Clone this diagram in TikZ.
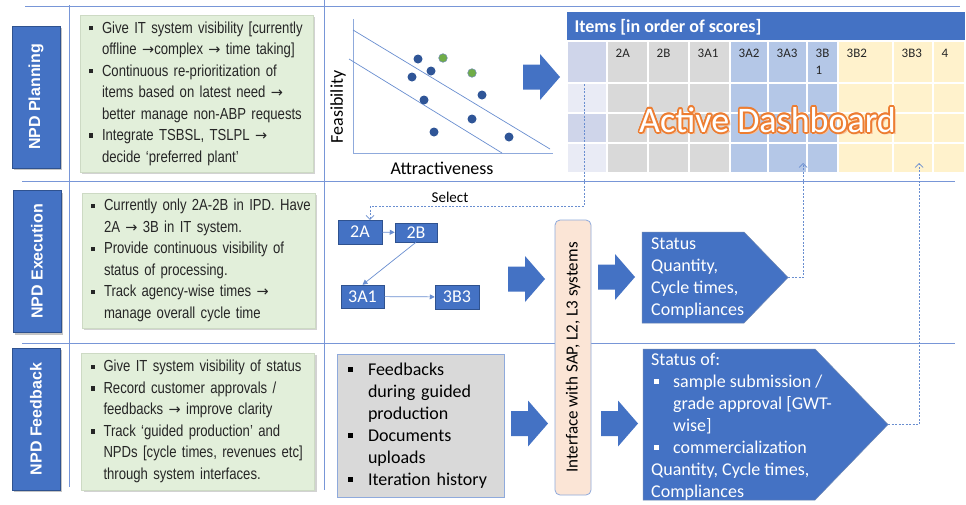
\documentclass[tikz,border=0pt]{standalone}
\usepackage{fontspec}
\usepackage{graphicx}
\setmainfont{Carlito}
\newfontfamily\arialfont{Liberation Sans}
\newfontfamily\narrowfont[FakeStretch=0.82]{Liberation Sans}
\newfontfamily\symfont{DejaVu Sans}
\usetikzlibrary{calc,arrows.meta,shadows}
\definecolor{npdBlue}{RGB}{68,114,196}
\definecolor{npdBlueDark}{RGB}{47,82,143}
\definecolor{sepBlue}{RGB}{120,150,215}
\definecolor{dotBlue}{RGB}{47,85,151}
\definecolor{dotGreen}{RGB}{112,173,71}
\definecolor{noteGreen}{RGB}{226,239,218}
\definecolor{noteEdge}{RGB}{205,218,196}
\definecolor{cellGray}{RGB}{217,217,217}
\definecolor{cellBlue}{RGB}{180,199,231}
\definecolor{cellYellow}{RGB}{255,242,204}
\definecolor{cellLav}{RGB}{207,213,234}
\definecolor{cellLavLight}{RGB}{233,235,245}
\definecolor{dashOrange}{RGB}{237,125,49}
\definecolor{peachFill}{RGB}{251,229,214}
\definecolor{lightEdge}{RGB}{143,170,220}
\newcommand{\SqBullet}[1]{\makebox[#1][l]{\rule[0.17em]{0.28em}{0.28em}}}
\newcommand{\HangIn}[1]{\hspace*{#1}}
\newcommand{\NoteItem}[1]{\SqBullet{13pt}\mbox{#1}}
\newcommand{\NoteCont}[1]{\HangIn{13pt}\mbox{#1}}
\newcommand{\Arr}{{\symfont\fontsize{14.5}{16}\selectfont →}}
\tikzset{
  bigArrow/.pic={
    \fill[npdBlue] (0,-12.5) -- (17,-12.5) -- (17,-23) -- (37,0) -- (17,23) -- (17,12.5) -- (0,12.5) -- cycle;
  }
}

\begin{document}
\begin{tikzpicture}[x=1pt,y=-1pt,
  sepLine/.style={draw=sepBlue, line width=0.9pt},
  sideLabel/.style={fill=npdBlue, draw=npdBlueDark, line width=0.6pt, text=white, minimum width=48pt, minimum height=142pt, inner sep=0pt, font=\arialfont\bfseries\fontsize{16}{19}\selectfont, drop shadow={shadow xshift=2pt, shadow yshift=-2pt, opacity=.45}},
  noteBox/.style={fill=noteGreen, draw=noteEdge, line width=0.6pt, text=black!85, text width=215pt, inner xsep=9pt, align=left, minimum width=233pt, font=\narrowfont\fontsize{16}{21.5}\selectfont, drop shadow={shadow xshift=2pt, shadow yshift=-2pt, opacity=.35}},
  cellLabel/.style={anchor=north west, inner sep=0pt, align=left, font=\fontsize{13}{17}\selectfont, text=black!85},
  dashText/.style={font=\fontsize{36}{40}\selectfont, inner sep=0pt},
  flowBox/.style={fill=npdBlue, draw=npdBlueDark, line width=0.5pt, text=white, inner sep=0pt, font=\fontsize{18}{20}\selectfont},
  flowLink/.style={draw=npdBlue!80, line width=0.7pt, -{Triangle[length=5pt,width=5pt]}},
  dashLink/.style={draw=npdBlue!80, line width=0.7pt, dash pattern=on 2pt off 1.5pt, -{Straight Barb[length=4pt,width=8pt]}},
  statText/.style={text=white, align=left, anchor=west, inner sep=0pt, font=\fontsize{18}{22}\selectfont}
]
\fill[white] (0,0) rectangle (966,504);
\useasboundingbox (0,0) rectangle (966,504);

% band separators
\draw[sepLine] (25,6) -- (960,6);
\draw[sepLine] (22,181) -- (955,181);
\draw[sepLine] (22,343) -- (955,343);
\draw[sepLine] (69,5) -- (69,487);
\draw[sepLine] (324,0) -- (324,490);

% left labels
\node[sideLabel] (lblPlan) at (36,97) {\rotatebox{90}{NPD Planning}};
\node[sideLabel] (lblExec) at (37,261.5) {\rotatebox{90}{NPD Execution}};
\node[sideLabel] (lblFeed) at (36,419) {\rotatebox{90}{NPD Feedback}};

% notes
\node[noteBox, minimum height=157pt] (notePlan) at (196.5,93.5) {%
\NoteItem{Give IT system visibility [currently}\\
\NoteCont{offline \Arr complex \Arr{} time taking]}\\
\NoteItem{Continuous re-prioritization of}\\
\NoteCont{items based on latest need \Arr}\\
\NoteCont{better manage non-ABP requests}\\
\NoteItem{Integrate TSBSL, TSLPL \Arr}\\
\NoteCont{decide ‘preferred plant’}};
\node[noteBox, minimum height=135pt] (noteExec) at (198.5,260.5) {%
\NoteItem{Currently only 2A-2B in IPD. Have}\\
\NoteCont{2A \Arr{} 3B in IT system.}\\
\NoteItem{Provide continuous visibility of}\\
\NoteCont{status of processing.}\\
\NoteItem{Track agency-wise times \Arr}\\
\NoteCont{manage overall cycle time}};
\node[noteBox, minimum height=137pt] (noteFeed) at (198,421.5) {%
\NoteItem{Give IT system visibility of status}\\
\NoteItem{Record customer approvals /}\\
\NoteCont{feedbacks \Arr{} improve clarity}\\
\NoteItem{Track ‘guided production’ and}\\
\NoteCont{NPDs [cycle times, revenues etc]}\\
\NoteCont{through system interfaces.}};

% scatter plot
\draw[lightEdge, line width=0.8pt] (353,19) -- (353,153) -- (553,153);
\draw[npdBlue!80, line width=0.7pt] (353,30) -- (550,149);
\draw[npdBlue!80, line width=0.7pt] (349,59) -- (502,153);
\foreach \px/\py in {418/59,431/71,412/77,424/100,482/95,472/119,434/132,509/137}
  \fill[dotBlue] (\px,\py) circle[radius=4.5pt];
\foreach \px/\py in {443/58,472/73}
  \filldraw[fill=dotGreen, draw=dotBlue!70, line width=0.5pt] (\px,\py) circle[radius=4.3pt];
\node[rotate=90, font=\fontsize{18}{20}\selectfont] (axFeas) at (338,107) {Feasibility};
\node[font=\fontsize{18}{20}\selectfont] (axAttr) at (442,168) {Attractiveness};

\pic (arrPlan) at (523,77) {bigArrow};

% table of items
\fill[npdBlue] (567,12) rectangle (965,41);
\node[anchor=west, text=white, font=\bfseries\fontsize{18}{20}\selectfont] (tblTitle) at (571,27) {Items [in order of scores]};
\foreach \ya/\yb/\c in {41/83/cellLav, 83/113/cellLavLight, 113/143/cellLav, 143/173/cellLavLight}
  \filldraw[fill=\c, draw=white, line width=1.5pt] (567,\ya) rectangle (607,\yb);
\foreach \xa/\xb/\lab/\col [count=\i] in {607/648/2A/cellGray, 648/689/2B/cellGray, 689/730/3A1/cellGray, 730/768/3A2/cellBlue, 768/807/3A3/cellBlue, 807/838/{3B\\1}/cellBlue, 838/893/3B2/cellYellow, 893/933/3B3/cellYellow, 933/965/4/cellYellow}{
  \foreach \ya/\yb in {41/83, 83/113, 113/143, 143/173}
    \filldraw[fill=\col, draw=white, line width=1.5pt] (\xa,\ya) rectangle (\xb,\yb);
  \node[cellLabel] (colHead\i) at ($(\xa,49)+(8.5,0)$) {\lab};
}
% dashboard word art: orange rim and shadow, white letters
\node[dashText, text=dashOrange!50] (shade) at (770,122) {Active Dashboard};
\foreach \a [count=\k] in {0,30,...,330}
  \node[dashText, text=dashOrange] (rim\k) at ($(767.5,120)+(\a:1.7)$) {Active Dashboard};
\node[dashText, text=white] (dash) at (767.5,120) {Active Dashboard};

% execution flow
\node[flowBox, minimum width=44pt, minimum height=24pt] (fA) at (360,232) {2A};
\node[flowBox, minimum width=42pt, minimum height=19pt] (fB) at (416,232.5) {2B};
\node[flowBox, minimum width=43pt, minimum height=23pt] (fC) at (362.5,296.5) {3A1};
\node[flowBox, minimum width=44pt, minimum height=24pt] (fD) at (457,297) {3B3};
\draw[flowLink] (fA) -- (fB);
\draw[flowLink] (fB.south) -- (fC.north);
\draw[flowLink] (fC) -- (fD);

\pic (arrExec1) at (508,279) {bigArrow};
\pic (arrExec2) at (598,277) {bigArrow};
\pic (arrFeed1) at (511,423.5) {bigArrow};
\pic (arrFeed2) at (601,423.5) {bigArrow};

% interface
\node[fill=peachFill, draw=lightEdge, line width=0.8pt, rounded corners=5pt, minimum width=36pt, minimum height=275pt, inner sep=0pt, font=\fontsize{17}{20}\selectfont] (iface) at (573,357.5) {\rotatebox{90}{Interface with SAP, L2, L3 systems}};

% status outputs
\filldraw[fill=npdBlue, draw=npdBlueDark!70, line width=0.5pt] (642,232) -- (744,232) -- (788,277.5) -- (744,323) -- (642,323) -- cycle;
\coordinate (stat1Tip) at (788,277.5);
\node[statText] (stat1) at (651,278) {Status\\Quantity,\\Cycle times,\\Compliances};
\filldraw[fill=npdBlue, draw=npdBlueDark!70, line width=0.5pt] (643,349) -- (815,349) -- (888,424.5) -- (815,500) -- (643,500) -- cycle;
\coordinate (stat2Tip) at (888,424.5);
\node[statText] (stat2) at (651,426.5) {Status of:\\
\HangIn{3pt}\SqBullet{19pt}sample submission /\\
\HangIn{22pt}grade approval [GWT-\\
\HangIn{22pt}wise]\\
\HangIn{3pt}\SqBullet{19pt}commercialization\\
Quantity, Cycle times,\\
Compliances};

% feedback docs
\node[fill=cellGray, draw=lightEdge, line width=0.8pt, minimum width=167pt, minimum height=143pt, text width=145pt, inner xsep=11pt, align=left, font=\fontsize{18}{22}\selectfont] (docBox) at (420.5,425.5) {%
\SqBullet{20pt}Feedbacks\\
\HangIn{20pt}during guided\\
\HangIn{20pt}production\\
\SqBullet{20pt}Documents\\
\HangIn{20pt}uploads\\
\SqBullet{20pt}Iteration history};

% dashed links
\coordinate (selStart) at (584,84);
\coordinate (tblIn1) at (803,163);
\coordinate (tblIn2) at (919,163);
\node[font=\fontsize{15}{18}\selectfont] (selLbl) at (450,197) {Select};
\draw[dashLink] (selStart) |- (370,206) -- ([xshift=10pt]fA.north);
\draw[dashLink] (stat1Tip) -| (tblIn1);
\draw[dashLink] (stat2Tip) -| (tblIn2);
\end{tikzpicture}
\end{document}
